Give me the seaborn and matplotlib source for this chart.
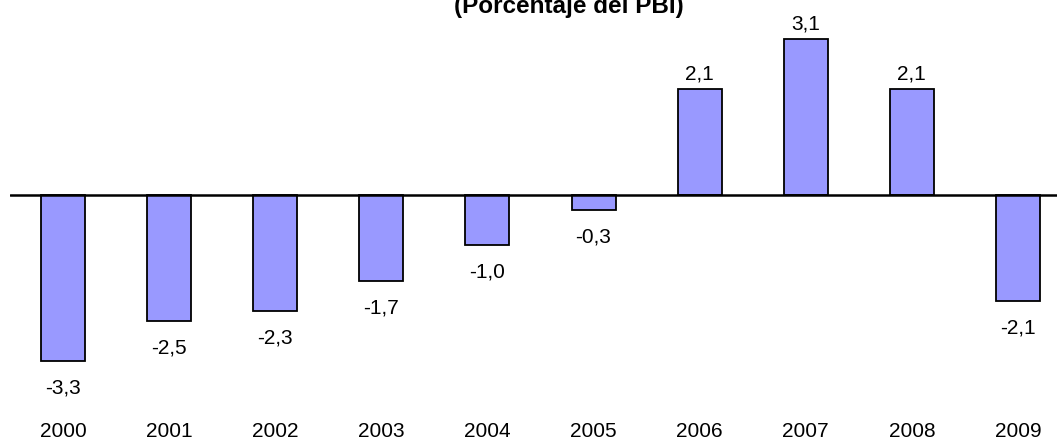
import seaborn as sns
import matplotlib.pyplot as plt
import pandas as pd

# datos (porcentaje del PBI)
years = ["2000", "2001", "2002", "2003", "2004", "2005", "2006", "2007", "2008", "2009"]
values = [-3.3, -2.5, -2.3, -1.7, -1.0, -0.3, 2.1, 3.1, 2.1, -2.1]
title = "(Porcentaje del PBI)"

sns.set_style("white")
plt.rcParams['font.family'] = ['Liberation Sans', 'DejaVu Sans']
plt.rcParams['text.color'] = 'black'
plt.rcParams['xtick.color'] = 'black'

df = pd.DataFrame({"year": years, "value": values})

fig = plt.figure(figsize=(10.57, 4.39), dpi=100)
ax = fig.add_axes([10 / 1057, 24 / 439, 1061 / 1057, 415 / 439])

sns.barplot(data=df, x="year", y="value", color="#9999FF", saturation=1,
            width=0.415, edgecolor="black", linewidth=1.3, ax=ax)

ax.set_xlim(-0.5, 9.5)
ax.set_ylim(-(415 - 196) / 50.3, 196 / 50.3)
ax.axhline(0, color="black", lw=1.8, zorder=3)

bars = ax.containers[0]
fmt = [f"{v:.1f}".replace(".", ",") for v in values]
ax.bar_label(bars, labels=[s if v > 0 else "" for s, v in zip(fmt, values)],
             padding=5, fontsize=15, color="black")
ax.bar_label(bars, labels=[s if v < 0 else "" for s, v in zip(fmt, values)],
             padding=12, fontsize=15, color="black")

for s in ax.spines.values():
    s.set_visible(False)
ax.set_xlabel("")
ax.set_ylabel("")
ax.set_yticks([])
ax.tick_params(axis="x", length=0, pad=5, labelsize=15, labelcolor="black")

fig.text(569 / 1057, 1 - 13 / 439, title, ha="center", va="baseline",
         fontsize=17.5, fontweight="bold", color="black")

fig.savefig("out.png", dpi=100)
